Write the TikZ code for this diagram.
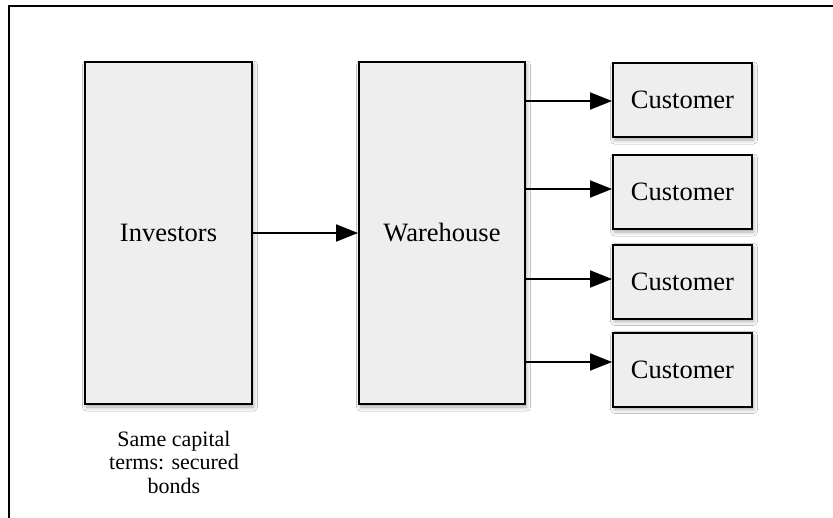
\documentclass[tikz,border=0pt]{standalone}
\usepackage{fontspec}
\setmainfont{Liberation Serif}
\usetikzlibrary{arrows.meta,shadows.blur}

\definecolor{boxfill}{HTML}{EEEEEE}

\tikzset{
  block/.style={draw=black, line width=2pt, fill=boxfill, inner sep=0pt,
    blur shadow={shadow xshift=1.5pt, shadow yshift=-3pt,
      shadow blur radius=4pt, shadow opacity=35},
    font=\fontsize{26.5}{30}\selectfont},
  custbox/.style={block, minimum width=139pt, minimum height=74pt},
  flow/.style={line width=2pt, -{Triangle[length=22pt, width=17pt]}},
  caption/.style={align=center, inner sep=0pt,
    font=\fontsize{22}{23.5}\selectfont}
}

\begin{document}
\begin{tikzpicture}[x=1pt, y=-1pt]
  \clip (0,0) rectangle (833,517);
  \fill[white] (0,0) rectangle (833,517);

  % outer frame, running past the right and bottom edges
  \draw[line width=2pt] (9,6) rectangle (850,540);

  % main blocks
  \node[block, minimum width=167pt, minimum height=342pt] (inv) at (168.5,233) {Investors};
  \node[block, minimum width=166pt, minimum height=342pt] (wh) at (442,233) {Warehouse};

  % customers
  \node[custbox] (c1) at (682.5,100) {Customer};
  \node[custbox] (c2) at (682.5,192) {Customer};
  \node[custbox] (c3) at (682.5,281.5) {Customer};
  \node[custbox] (c4) at (682.5,369.5) {Customer};

  % flow heights
  \coordinate (y1) at (0,101);
  \coordinate (y2) at (0,189);
  \coordinate (y3) at (0,279);
  \coordinate (y4) at (0,362);

  \draw[flow] (inv) -- (wh);
  \draw[flow] (wh.east |- y1) -- (c1.west |- y1);
  \draw[flow] (wh.east |- y2) -- (c2.west |- y2);
  \draw[flow] (wh.east |- y3) -- (c3.west |- y3);
  \draw[flow] (wh.east |- y4) -- (c4.west |- y4);

  \node[caption] (cap) at (174,462) {Same capital\\terms: secured\\bonds};
\end{tikzpicture}
\end{document}
